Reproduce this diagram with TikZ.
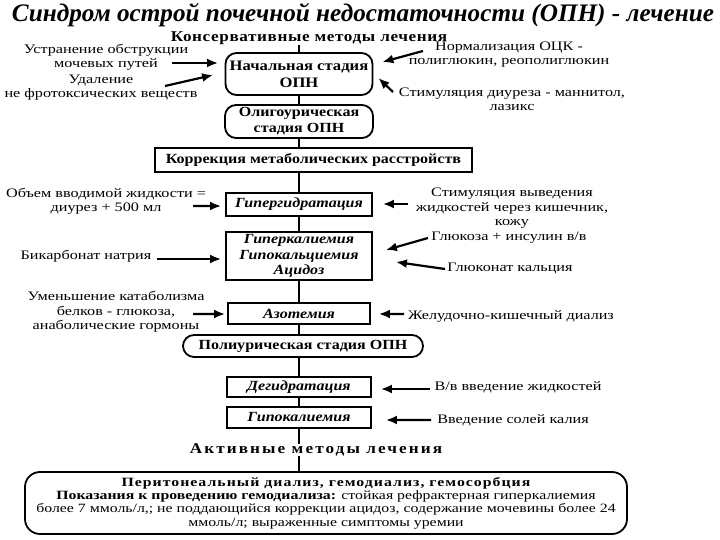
\documentclass[tikz,border=0pt]{standalone}
\usepackage{fontspec}
\setmainfont{Liberation Serif}
\newfontfamily\notefont[FakeStretch=1.25]{Liberation Serif}
\newfontfamily\boxfont[FakeStretch=1.15]{Liberation Serif}
\newfontfamily\headfont[FakeStretch=1.15,LetterSpace=4]{Liberation Serif}
\usetikzlibrary{arrows.meta}

\tikzset{
  stage/.style={draw, line width=1.8bp, rounded corners=11bp, align=center, inner sep=0pt,
    font=\boxfont\fontsize{14}{16}\selectfont\bfseries},
  state/.style={draw, line width=1.8bp, align=center, inner sep=0pt,
    font=\boxfont\fontsize{14}{15.5}\selectfont\bfseries\itshape},
  note/.style={align=center, inner sep=0pt, font=\notefont\fontsize{13}{14.5}\selectfont},
  head/.style={inner sep=0pt, font=\headfont\fontsize{15}{17}\selectfont\bfseries},
  arr/.style={-{Latex[length=11bp,width=9bp]}, line width=2.2bp},
  link/.style={line width=1.2bp}
}

\begin{document}
\begin{tikzpicture}[x=1bp, y=-1bp]
  \useasboundingbox (0,0) rectangle (720,540);

  % --- headings ---
  \node[inner sep=0pt, font=\fontsize{25.3}{27}\selectfont\bfseries\itshape] (title) at (363,15)
    {Синдром острой почечной недостаточности (ОПН) - лечение};
  \node[head] (cons) at (309,38) {Консервативные методы лечения};
  \node[head, font=\headfont\addfontfeature{LetterSpace=14}\fontsize{15}{17}\selectfont\bfseries] (act) at (316,450)
    {Активные методы лечения};

  % --- main column ---
  \node[stage, font=\boxfont\fontsize{14.5}{17}\selectfont\bfseries, minimum width=147bp, minimum height=42bp] (n1) at (299,74)
    {Начальная стадия\\ОПН};
  \node[stage, minimum width=148bp, minimum height=33bp] (n2) at (299,121.5) {Олигоурическая\\стадия ОПН};
  \node[state, font=\boxfont\fontsize{14}{16}\selectfont\bfseries, minimum width=317bp, minimum height=24bp] (n3) at (313.5,160)
    {Коррекция метаболических расстройств};
  \node[state, minimum width=146bp, minimum height=23bp] (n4) at (299,204.5) {Гипергидратация};
  \node[state, minimum width=146bp, minimum height=48bp] (n5) at (299,256)
    {Гиперкалиемия\\Гипокальциемия\\Ацидоз};
  \node[state, minimum width=142bp, minimum height=21bp] (n6) at (299,313.5) {Азотемия};
  \node[stage, minimum width=240bp, minimum height=22bp] (n7) at (303,346) {Полиурическая стадия ОПН};
  \node[state, minimum width=144bp, minimum height=20bp] (n8) at (299,387) {Дегидратация};
  \node[state, minimum width=144bp, minimum height=21bp] (n9) at (299,417.5) {Гипокалиемия};
  \node[stage, rounded corners=15bp, minimum width=602bp, minimum height=62bp,
        font=\notefont\fontsize{12.7}{13.4}\selectfont] (n10) at (326,503)
    {{\bfseries\addfontfeature{LetterSpace=8}Перитонеальный диализ, гемодиализ, гемосорбция}\\
     {\bfseries Показания к проведению гемодиализа:} стойкая рефрактерная гиперкалиемия\\
     более 7 ммоль/л,; не поддающийся коррекции ацидоз, содержание мочевины более 24\\
     ммоль/л; выраженные симптомы уремии};

  % vertical links
  \draw[link] (n1.north |- cons.south) -- (n1.north);
  \draw[link] (n1) -- (n2);
  \draw[link] (n2.south) -- (n2.south |- n3.north);
  \draw[link] (n4.north |- n3.south) -- (n4.north);
  \draw[link] (n4) -- (n5);
  \draw[link] (n5) -- (n6);
  \draw[link] (n6.south) -- (n6.south |- n7.north);
  \draw[link] (n8.north |- n7.south) -- (n8.north);
  \draw[link] (n8) -- (n9);
  \draw[link] (n9.south) -- (n9.south |- act.north);
  \draw[link] (n9.south |- act.south) -- (n9.south |- n10.north);

  % --- side notes ---
  \node[note] (t1) at (106,57.5) {Устранение обструкции\\мочевых путей};
  \node[note] (t2) at (101,87.5) {Удаление\\не фротоксических веществ};
  \node[note] (t3) at (509,54.5) {Нормализация ОЦК -\\полиглюкин, реополиглюкин};
  \node[note] (t4) at (512,99.5) {Стимуляция диуреза - маннитол,\\лазикс};
  \node[note] (t5) at (106,201.5) {Объем вводимой жидкости =\\диурез + 500 мл};
  \node[note] (t6) at (512,208.5) {Стимуляция выведения\\жидкостей через кишечник,\\кожу};
  \node[note] (t7) at (86,256) {Бикарбонат натрия};
  \node[note] (t8) at (509,238) {Глюкоза + инсулин в/в};
  \node[note] (t9) at (510,269) {Глюконат кальция};
  \node[note] (t10) at (116,312) {Уменьшение катаболизма\\белков - глюкоза,\\анаболические гормоны};
  \node[note] (t11) at (511,316) {Желудочно-кишечный диализ};
  \node[note] (t12) at (518,387) {В/в введение жидкостей};
  \node[note] (t13) at (513,420) {Введение солей калия};

  % --- arrows ---
  \coordinate (a1) at (172,63);
  \coordinate (a2) at (165,86);
  \coordinate (a3) at (423,51);
  \coordinate (a4) at (393,92);
  \coordinate (a5) at (193,206);
  \coordinate (a6) at (408,204);
  \coordinate (a7) at (157,259);
  \coordinate (a8) at (428,238);
  \coordinate (a9) at (445,269);
  \coordinate (a10) at (193,314);
  \coordinate (a11) at (404,314);
  \coordinate (a12) at (430,389);
  \coordinate (a13) at (431,420);

  \draw[arr] (a1) -- ([shift={(-6.5,-11)}]n1.west);
  \draw[arr] (a2) -- ([shift={(-11.5,1)}]n1.west);
  \draw[arr] (a3) -- ([shift={(9,-12)}]n1.east);
  \draw[arr] (a4) -- ([shift={(5,4)}]n1.east);
  \draw[arr] (a5) -- ([shift={(-4,1.5)}]n4.west);
  \draw[arr] (a6) -- ([shift={(10,-0.5)}]n4.east);
  \draw[arr] (a7) -- ([shift={(-4,3)}]n5.west);
  \draw[arr] (a8) -- ([shift={(13,-6)}]n5.east);
  \draw[arr] (a9) -- ([shift={(23,6)}]n5.east);
  \draw[arr] (a10) -- ([shift={(-2,0.5)}]n6.west);
  \draw[arr] (a11) -- ([shift={(8,0.5)}]n6.east);
  \draw[arr] (a12) -- ([shift={(9,2)}]n8.east);
  \draw[arr] (a13) -- ([shift={(14,2.5)}]n9.east);
\end{tikzpicture}
\end{document}
